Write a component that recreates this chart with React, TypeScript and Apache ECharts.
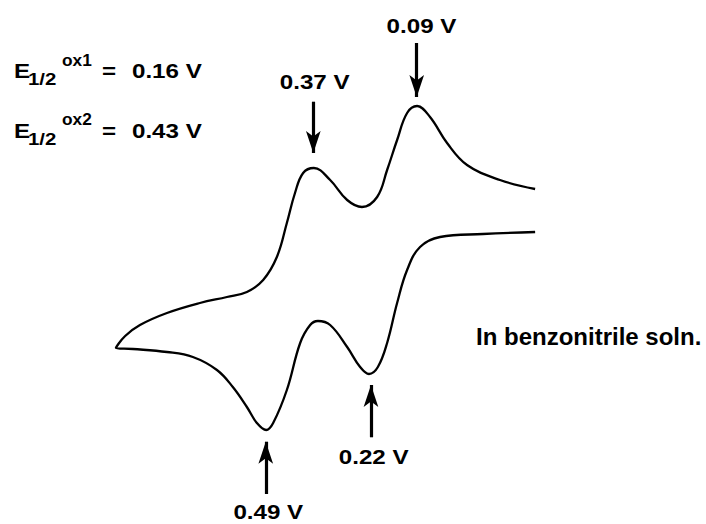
import React, { useEffect, useRef } from 'react';
import * as echarts from 'echarts';

// Cyclic voltammogram trace in path order (upper branch right -> left, then lower branch left -> right)
const cvPotential = [
  -0.226, -0.131, -0.042, 0.012, 0.058, 0.093, 0.12, 0.147, 0.174, 0.201, 0.242, 0.282, 0.328,
  0.372, 0.401, 0.423, 0.445, 0.472, 0.509, 0.553, 0.607, 0.68, 0.769, 0.842, 0.882, 0.907,
  0.861, 0.769, 0.699, 0.634, 0.591, 0.553, 0.526, 0.501, 0.482, 0.445, 0.409, 0.382, 0.361,
  0.328, 0.282, 0.247, 0.223, 0.199, 0.174, 0.147, 0.12, 0.085, 0.031, -0.085, -0.226,
];
const cvCurrent = [
  4.55, 5.0, 5.75, 6.85, 8.15, 8.7, 8.35, 7.0, 5.5, 4.15, 3.65, 4.0, 5.0,
  5.6, 5.35, 4.35, 2.85, 1.15, 0.0, -0.6, -0.85, -1.15, -1.65, -2.25, -2.8, -3.4,
  -3.45, -3.6, -3.85, -4.5, -5.35, -6.35, -7.15, -7.5, -7.15, -5.5, -3.15, -2.25, -2.05,
  -2.25, -3.35, -4.35, -4.7, -4.35, -3.15, -1.15, 0.5, 1.65, 2.15, 2.3, 2.4,
];

// Peak arrows (potential, shaft start current, arrow tip current)
const peakLabels = ['0.09 V', '0.37 V', '0.22 V', '0.49 V'];
const arrowPotential = [0.094, 0.3735, 0.2176, 0.502];
const arrowFrom = [11.85, 8.915, -7.865, -10.7];
const arrowTo = [9.15, 6.35, -5.25, -8.085];

const halfWaveLabels = ['E', '1/2', 'ox1', '=', '0.16 V'];
const halfWaveLabels2 = ['E', '1/2', 'ox2', '=', '0.43 V'];
const noteText = 'In benzonitrile soln.';

const FONT = '"Liberation Sans", Arial, Helvetica, sans-serif';

function txt(text: string, x: number, y: number, size: number, sx: number, align: string = 'left') {
  return {
    type: 'text',
    x,
    y,
    scaleX: sx,
    silent: true,
    style: {
      text,
      x: 0,
      y: 0,
      fill: '#000',
      fontSize: size,
      fontWeight: 'bold',
      fontFamily: FONT,
      align,
      verticalAlign: 'middle',
    },
  };
}

function eLine(parts: string[], cy: number) {
  return [
    txt(parts[0], 14, cy, 21, 1.15),
    txt(parts[1], 28, cy + 8, 17, 1.2),
    txt(parts[2], 62, cy - 10.5, 16, 1.08),
    txt(parts[3], 102, cy, 21, 1.15),
    txt(parts[4], 132, cy, 21, 1.15),
  ];
}

export default function App() {
  const ref = useRef<HTMLDivElement>(null);
  useEffect(() => {
    const chart = echarts.init(ref.current!, null, { renderer: 'svg' });
    const data = cvPotential.map((v, i) => [v, cvCurrent[i]]);
    const arrows = arrowPotential.map((v, i) => [
      { coord: [v, arrowFrom[i]], symbol: 'none' },
      { coord: [v, arrowTo[i]], symbol: 'arrow' },
    ]);
    const labelPos: [number, number][] = [
      [421.5, 26.2],
      [314.7, 81.7],
      [373.7, 457.2],
      [268.3, 511.7],
    ];
    const option: any = {
      animation: false,
      backgroundColor: '#fff',
      grid: { left: 0, right: 0, top: 0, bottom: 0 },
      xAxis: { type: 'value', min: -0.68784, max: 1.22027, inverse: true, show: false },
      yAxis: { type: 'value', min: -12.2, max: 14, show: false },
      series: [
        {
          type: 'line',
          data,
          smooth: 0.4,
          showSymbol: false,
          clip: false,
          lineStyle: { color: '#000', width: 2.3 },
          markLine: {
            silent: true,
            symbolSize: [11, 22],
            label: { show: false },
            lineStyle: { color: '#000', width: 3.2, type: 'solid' },
            itemStyle: { color: '#000' },
            data: arrows,
          },
        },
      ],
      graphic: [
        ...eLine(halfWaveLabels, 71),
        ...eLine(halfWaveLabels2, 130.7),
        ...peakLabels.map((t, i) => txt(t, labelPos[i][0], labelPos[i][1], 21, 1.15, 'center')),
        txt(noteText, 476, 336.5, 24, 1.0),
      ],
    };
    chart.setOption(option);
    return () => chart.dispose();
  }, []);
  return (
    <div
      ref={ref}
      style={{ position: 'absolute', left: 0, top: 0, width: 706, height: 524, background: '#fff' }}
    />
  );
}
